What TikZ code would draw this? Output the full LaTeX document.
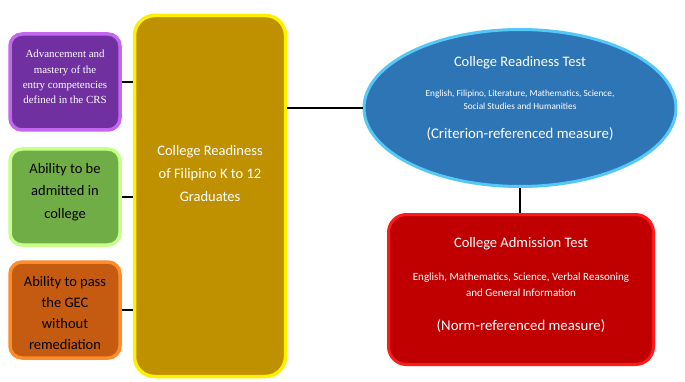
\documentclass[tikz,border=0pt]{standalone}
\usepackage{fontspec}
\setmainfont{Carlito}
\newfontfamily\timesfont{Liberation Serif}
\definecolor{advfill}{HTML}{7030A0}
\definecolor{advstroke}{HTML}{C466F0}
\definecolor{admitfill}{HTML}{70AD47}
\definecolor{admitstroke}{HTML}{C6FF8A}
\definecolor{passfill}{HTML}{C55A11}
\definecolor{passstroke}{HTML}{FF8C2A}
\definecolor{gradfill}{HTML}{BF9000}
\definecolor{gradstroke}{HTML}{FFF000}
\definecolor{crtfill}{HTML}{2E75B6}
\definecolor{crtstroke}{HTML}{55C8F8}
\definecolor{catfill}{HTML}{C00000}
\definecolor{catstroke}{HTML}{FF1A1A}
\usetikzlibrary{shapes.geometric}

\tikzset{
  sidebox/.style={rectangle, rounded corners=12pt, line width=3.5pt,
    minimum width=110pt, minimum height=96pt},
  sidetext/.style={align=center, inner sep=0pt},
  link/.style={line width=1.6pt, black},
}

\begin{document}
\begin{tikzpicture}[x=1pt, y=-1pt]
  \useasboundingbox (0,0) rectangle (685,382);
  % competencies on the left
  \node[sidebox, fill=advfill, draw=advstroke] (adv) at (65,82) {};
  \node[sidetext, text=white, font=\timesfont\fontsize{10.9}{15.3}\selectfont] (advtxt) at (65,77)
        {Advancement and\\mastery of the\\entry competencies\\defined in the CRS};
  \node[sidebox, fill=admitfill, draw=admitstroke] (admit) at (65,197) {};
  \node[sidetext, font=\fontsize{14.5}{22.7}\selectfont] (admittxt) at (65,192)
        {Ability to be\\admitted in\\college};
  \node[sidebox, fill=passfill, draw=passstroke] (pass) at (65,310) {};
  \node[sidetext, font=\fontsize{14.5}{20.7}\selectfont] (passtxt) at (65,313)
        {Ability to pass\\the GEC\\without\\remediation};
  % graduates
  \node[rectangle, rounded corners=20pt, line width=3.5pt, fill=gradfill,
        draw=gradstroke, minimum width=151pt, minimum height=361pt] (grad) at (210,196) {};
  \node[text=white, align=center, font=\fontsize{14.5}{23}\selectfont] (gradtxt) at (210,174)
        {College Readiness\\of Filipino K to 12\\Graduates};
  % tests
  \node[ellipse, fill=crtfill, draw=crtstroke, line width=3pt, inner sep=0pt,
        minimum width=312pt, minimum height=157pt] (crt) at (520,108) {};
  \node[text=white, font=\fontsize{14.5}{16}\selectfont] (crttitle) at (520,63) {College Readiness Test};
  \node[text=white, align=center, font=\fontsize{9.3}{13.5}\selectfont] (crtsubj) at (520,100)
        {English, Filipino, Literature, Mathematics, Science,\\Social Studies and Humanities};
  \node[text=white, font=\fontsize{14.8}{16}\selectfont] (crtkind) at (520,134) {(Criterion-referenced measure)};
  \node[rectangle, rounded corners=18pt, fill=catfill, draw=catstroke, line width=3pt,
        minimum width=265pt, minimum height=150pt] (cat) at (521,289.5) {};
  \node[text=white, font=\fontsize{14.5}{16}\selectfont] (cattitle) at (521,244) {College Admission Test};
  \node[text=white, align=center, font=\fontsize{11}{16}\selectfont] (catsubj) at (521,285)
        {English, Mathematics, Science, Verbal Reasoning\\and General Information};
  \node[text=white, font=\fontsize{14.8}{16}\selectfont] (catkind) at (521,326) {(Norm-referenced measure)};
  % connectors
  \foreach \side in {adv, admit, pass}
    \draw[link] (\side.east) -- (\side.east -| grad.west);
  \draw[link] (grad.east |- crt.west) -- (crt.west);
  \draw[link] (crt.south) -- (crt.south |- cat.north);
\end{tikzpicture}
\end{document}
